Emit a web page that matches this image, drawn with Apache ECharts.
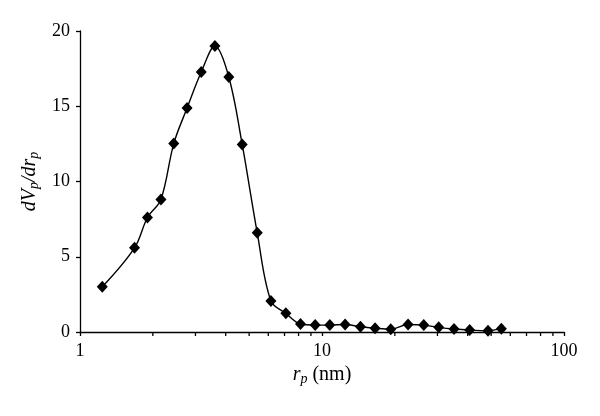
<!DOCTYPE html>
<html>
<head>
<meta charset="utf-8">
<script src="https://cdn.jsdelivr.net/npm/echarts@6/dist/echarts.min.js"></script>
<style>html,body{margin:0;padding:0;background:#fff;}#c{width:600px;height:416px;}</style>
</head>
<body>
<div id="c"></div>
<script>
// Pore radius r_p (nm)
var radius = [1.236, 1.68, 1.90, 2.16, 2.44, 2.77, 3.17, 3.61, 4.12, 4.68, 5.40, 6.15, 7.09, 8.15, 9.37, 10.77, 12.46, 14.42, 16.57, 19.24, 22.68, 26.33, 30.35, 35.12, 40.75, 48.52, 55.10];
// dV_p/dr_p
var dVdr = [3.0, 5.59, 7.61, 8.81, 12.52, 14.88, 17.27, 19.0, 16.94, 12.46, 6.59, 2.06, 1.24, 0.53, 0.46, 0.46, 0.50, 0.35, 0.25, 0.18, 0.50, 0.46, 0.31, 0.20, 0.13, 0.09, 0.22];
// minor tick positions on the log axis
var minorTicks = [2, 3, 4, 5, 6, 7, 8, 9, 20, 30, 40, 50, 60, 70, 80, 90];
var yTicks = [0, 5, 10, 15, 20];

var FONT = 'Liberation Serif';
var chart = echarts.init(document.getElementById('c'));
var pts = radius.map(function (r, i) { return [r, dVdr[i]]; });

chart.setOption({
  animation: false,
  backgroundColor: '#fff',
  grid: { left: 80, right: 36, top: 31, bottom: 84, containLabel: false },
  xAxis: {
    type: 'log', logBase: 10, min: 1, max: 100,
    name: '{i|r}{s|p}{n| (nm)}',
    nameLocation: 'middle', nameGap: 29,
    nameTextStyle: {
      color: '#000', fontFamily: FONT, fontSize: 20,
      rich: {
        i: { fontFamily: FONT, fontStyle: 'italic', fontSize: 20, color: '#000' },
        s: { fontFamily: FONT, fontStyle: 'italic', fontSize: 14, color: '#000', verticalAlign: 'bottom', padding: [9, 0, 0, 0] },
        n: { fontFamily: FONT, fontSize: 20, color: '#000' }
      }
    },
    axisLine: { show: true, lineStyle: { color: '#000', width: 1.3 } },
    axisTick: { show: true, inside: false, length: 4, lineStyle: { color: '#000', width: 1.3 } },
    axisLabel: { color: '#000', fontFamily: FONT, fontSize: 18, margin: 10 },
    splitLine: { show: false },
    minorTick: { show: false }
  },
  yAxis: {
    type: 'value', min: yTicks[0], max: yTicks[yTicks.length - 1], interval: 5,
    name: '{i|d}{n|V}{s|p}{i|/dr}{s|p}',
    nameLocation: 'middle', nameGap: 38, nameRotate: 90,
    nameTextStyle: {
      color: '#000', fontFamily: FONT, fontSize: 20,
      rich: {
        i: { fontFamily: FONT, fontStyle: 'italic', fontSize: 20, color: '#000' },
        n: { fontFamily: FONT, fontStyle: 'italic', fontSize: 20, color: '#000' },
        s: { fontFamily: FONT, fontStyle: 'italic', fontSize: 14, color: '#000', verticalAlign: 'bottom', padding: [9, 0, 0, 0] }
      }
    },
    axisLine: { show: true, lineStyle: { color: '#000', width: 1.3 } },
    axisTick: { show: true, inside: false, length: 4, lineStyle: { color: '#000', width: 1.3 } },
    axisLabel: { color: '#000', fontFamily: FONT, fontSize: 18, margin: 10 },
    splitLine: { show: false }
  },
  series: [
    {
      type: 'line',
      data: pts,
      smooth: 0.35,
      symbol: 'diamond',
      symbolSize: [11, 12],
      lineStyle: { color: '#000', width: 1.4 },
      itemStyle: { color: '#000' },
      z: 3
    },
    {
      type: 'custom',
      clip: false,
      silent: true,
      data: minorTicks.map(function (v) { return [v, 0]; }),
      renderItem: function (params, api) {
        var p = api.coord([api.value(0), api.value(1)]);
        return {
          type: 'line',
          shape: { x1: p[0], y1: p[1], x2: p[0], y2: p[1] + 4 },
          style: { stroke: '#000', lineWidth: 1.3 }
        };
      },
      z: 2
    }
  ]
});
</script>
</body>
</html>
